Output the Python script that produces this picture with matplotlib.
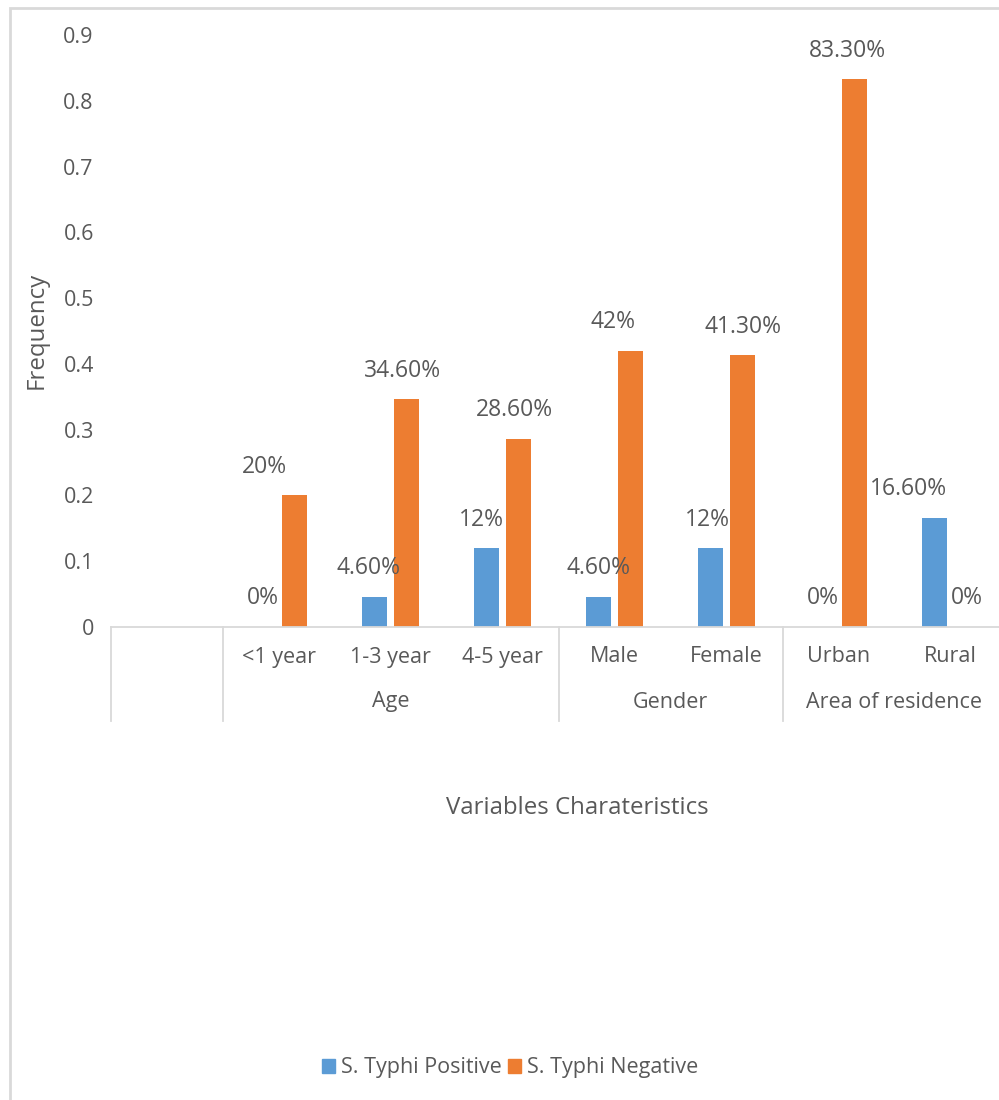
import matplotlib
matplotlib.use("Agg")
import matplotlib.pyplot as plt
from matplotlib.patches import Rectangle, Patch
import numpy as np

# ---- data ----
categories = ["", "<1 year", "1-3 year", "4-5 year", "Male", "Female", "Urban", "Rural"]
groups = ["Age", "Gender", "Area of residence"]
group_spans = [(1, 3), (4, 5), (6, 7)]          # category index ranges
positive = [np.nan, 0.0, 0.046, 0.12, 0.046, 0.12, 0.0, 0.166]
negative = [np.nan, 0.20, 0.346, 0.286, 0.42, 0.413, 0.833, 0.0]
pos_labels = ["", "0%", "4.60%", "12%", "4.60%", "12%", "0%", "16.60%"]
neg_labels = ["", "20%", "34.60%", "28.60%", "42%", "41.30%", "83.30%", "0%"]
series_names = ["S. Typhi Positive", "S. Typhi Negative"]
y_ticks = [0, 0.1, 0.2, 0.3, 0.4, 0.5, 0.6, 0.7, 0.8, 0.9]
y_tick_labels = ["0", "0.1", "0.2", "0.3", "0.4", "0.5", "0.6", "0.7", "0.8", "0.9"]

# ---- style ----
BLUE = "#5B9BD5"
ORANGE = "#ED7D31"
TXT = "#595959"
LINE = "#D9D9D9"
FS = 15.5
FS_DATA = 16.5
FS_TITLE = 17.3
plt.rcParams['font.family'] = ['Open Sans', 'DejaVu Sans']
# small horizontal nudges (pixels) of data labels, as placed in the original
pos_nudge = [0, 0, -6, -5, 0, -3, 0, -26]
neg_nudge = [0, -30, -4, -4, -18, 0, -7, 0]

W, H = 999, 1100
fig = plt.figure(figsize=(W / 100, H / 100), dpi=100)
left_px, right_px, top_px, bot_px = 110.5, 1006.5, 35, 627
ax = fig.add_axes([left_px / W, 1 - bot_px / H, (right_px - left_px) / W, (bot_px - top_px) / H])

x = np.arange(len(categories))
bw = 0.223
off = 0.143
ax.bar(x - off, positive, bw, color=BLUE, label=series_names[0], zorder=2)
ax.bar(x + off, negative, bw, color=ORANGE, label=series_names[1], zorder=2)

ax.set_xlim(-0.5, len(categories) - 0.5)
ax.set_ylim(0, 0.9)
ax.set_yticks(y_ticks)
ax.set_yticklabels(y_tick_labels, fontsize=FS, color=TXT)
ax.tick_params(axis='y', length=0, pad=12)
ax.set_xticks([])
for s in ["top", "right", "left"]:
    ax.spines[s].set_visible(False)
ax.spines["bottom"].set_color(LINE)
ax.spines["bottom"].set_linewidth(1.3)

# data labels
for i in range(1, len(categories)):
    for vals, labs, sgn, nud in ((positive, pos_labels, -1, pos_nudge), (negative, neg_labels, 1, neg_nudge)):
        ax.annotate(labs[i], (x[i] + sgn * off, vals[i]), xytext=(nud[i], 28.5),
                    textcoords='offset pixels', ha='center', va='center',
                    fontsize=FS_DATA, color=TXT, annotation_clip=False)

# multi-level category axis
xt = ax.get_xaxis_transform()
for i, c in enumerate(categories):
    if c:
        ax.annotate(c, (x[i], 0), xycoords=xt, xytext=(0, -30), textcoords='offset pixels',
                    ha='center', va='center', fontsize=FS, color=TXT, annotation_clip=False)
for g, (a, b) in zip(groups, group_spans):
    ax.annotate(g, ((x[a] + x[b]) / 2, 0), xycoords=xt, xytext=(0, -75), textcoords='offset pixels',
                ha='center', va='center', fontsize=FS, color=TXT, annotation_clip=False)
sep_h = 94 / (bot_px - top_px)
for bnd in [-0.5, 0.5, 3.5, 5.5]:
    ax.plot([bnd, bnd], [0, -sep_h], transform=xt, color=LINE, lw=1.3, clip_on=False)

# axis titles
fig.text(577 / W, 1 - 808 / H, "Variables Charateristics", ha='center', va='center', fontsize=FS_TITLE, color=TXT)
fig.text(37 / W, 1 - 330 / H, "Frequency", ha='center', va='center', rotation=90, fontsize=FS_TITLE, color=TXT)

# legend
handles = [Patch(color=BLUE), Patch(color=ORANGE)]
fig.legend(handles, series_names, loc='center', bbox_to_anchor=(510 / W, 1 - 1068 / H), ncol=2,
           frameon=False, fontsize=FS, labelcolor=TXT, handlelength=0.62, handleheight=0.62,
           handletextpad=0.25, columnspacing=0.3)

# outer chart border
fig.patches.append(Rectangle((9.5 / W, -0.05), 1.2, 1.05 - 8 / H, transform=fig.transFigure,
                             fill=False, ec=LINE, lw=2))

fig.savefig("out.png", dpi=100, facecolor="white")
